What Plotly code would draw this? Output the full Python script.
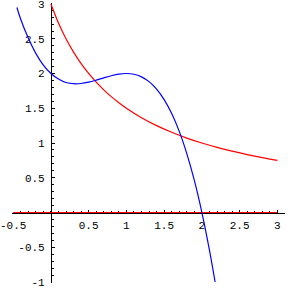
import plotly.graph_objects as go

# Blue curve
blue_x = [-0.45, -0.4, -0.3, -0.2, -0.1, 0.0, 0.1, 0.2, 0.3, 0.4, 0.5, 0.6, 0.7, 0.8, 0.9,
          1.0, 1.1, 1.2, 1.3, 1.4, 1.5, 1.6, 1.7, 1.8, 1.9, 2.0, 2.1, 2.15, 2.175]
blue_y = [2.95, 2.78, 2.51, 2.29, 2.12, 2.0, 1.92, 1.87, 1.853, 1.856, 1.875, 1.904, 1.937, 1.968, 1.991,
          2.0, 1.989, 1.952, 1.883, 1.776, 1.625, 1.424, 1.167, 0.848, 0.461, 0.0, -0.541, -0.843, -1.0]

# Red curve
red_x = [0.0, 0.1, 0.2, 0.3, 0.4, 0.5, 0.6, 0.7, 0.8, 0.9, 1.0, 1.2, 1.4, 1.6, 1.8, 2.0,
         2.2, 2.4, 2.6, 2.8, 3.0]
red_y = [3.0, 2.727, 2.5, 2.308, 2.143, 2.0, 1.875, 1.765, 1.667, 1.579, 1.5, 1.364, 1.25, 1.154,
         1.071, 1.0, 0.9375, 0.882, 0.833, 0.789, 0.75]

# Red baseline
base_x = [-0.5, 3.0]
base_y = [0.0, 0.0]

x_ticks = [-0.5, 0.5, 1, 1.5, 2, 2.5, 3]
x_labels = ["-0.5", "0.5", "1", "1.5", "2", "2.5", "3"]
y_ticks = [-1, -0.5, 0.5, 1, 1.5, 2, 2.5, 3]
y_labels = ["-1", "-0.5", "0.5", "1", "1.5", "2", "2.5", "3"]

fig = go.Figure()
fig.add_trace(go.Scatter(x=base_x, y=base_y, mode="lines",
                         line=dict(color="#ff0000", width=1), hoverinfo="skip"))
fig.add_trace(go.Scatter(x=red_x, y=red_y, mode="lines", line_shape="spline",
                         line=dict(color="#ff0000", width=1.2), hoverinfo="skip"))
fig.add_trace(go.Scatter(x=blue_x, y=blue_y, mode="lines", line_shape="spline",
                         line=dict(color="#0000ff", width=1.2), hoverinfo="skip"))

font = dict(family="Liberation Mono, Courier New, monospace", size=11, color="black")

# pixel geometry: x=0 at 50.9px, 75.5 px/unit; y=0 at 212.5px, 69.5 px/unit
ex, ey = 0.01, 0.01
xr = [-0.5 - ex, 3.1]
yr = [-1 - ey, 3 + ey]
xd0, xd1 = (50.9 + 75.5 * xr[0]) / 288, (50.9 + 75.5 * xr[1]) / 288
yd0, yd1 = (288 - (212.5 - 69.5 * yr[0])) / 288, (288 - (212.5 - 69.5 * yr[1])) / 288
ypos_of_xaxis = yd0 + (0 - yr[0]) / (yr[1] - yr[0]) * (yd1 - yd0)
xpos_of_yaxis = xd0 + (0 - xr[0]) / (xr[1] - xr[0]) * (xd1 - xd0)

fig.update_layout(
    width=288, height=288,
    margin=dict(l=0, r=0, t=0, b=0, autoexpand=False),
    paper_bgcolor="white", plot_bgcolor="white",
    showlegend=False,
    xaxis=dict(range=xr, domain=[xd0, xd1], anchor="free", position=ypos_of_xaxis,
               automargin=False,
               showgrid=False, zeroline=False, showline=True, linecolor="black", linewidth=1,
               ticks="inside", ticklen=3, tickwidth=1, tickcolor="black",
               tickvals=x_ticks, ticktext=x_labels, tickfont=font, ticklabeloverflow="allow",
               ticklabelstandoff=2,
               minor=dict(tick0=0, dtick=0.1, ticks="inside", ticklen=2, tickcolor="black", tickwidth=1),
               layer="below traces", fixedrange=True),
    yaxis=dict(range=yr, domain=[yd0, yd1], anchor="free", position=xpos_of_yaxis,
               automargin=False,
               showgrid=False, zeroline=False, showline=True, linecolor="black", linewidth=1,
               ticks="inside", ticklen=3, tickwidth=1, tickcolor="black",
               tickvals=y_ticks, ticktext=y_labels, tickfont=font, ticklabeloverflow="allow",
               ticklabelstandoff=4,
               minor=dict(tick0=0, dtick=0.1, ticks="inside", ticklen=2, tickcolor="black", tickwidth=1),
               layer="below traces", fixedrange=True),
)

fig.write_html("out.html")
